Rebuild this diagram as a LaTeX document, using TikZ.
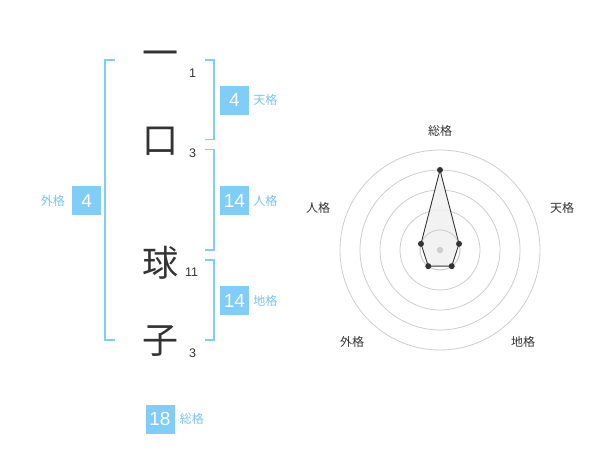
\documentclass[tikz,border=0pt]{standalone}
\usepackage{fontspec}
\setmainfont{Liberation Sans}
\newfontfamily\jpfont{Noto Sans CJK JP}
\usetikzlibrary{positioning, calc}
\definecolor{kakublue}{RGB}{129, 205, 250}
\definecolor{kakutext}{RGB}{120, 196, 240}
\definecolor{inkgray}{RGB}{51, 51, 51}
\definecolor{ringgray}{RGB}{205, 205, 205}
\tikzset{
  kanji/.style={font=\jpfont\fontsize{36}{36}\selectfont, text=inkgray, inner sep=0pt},
  strokes/.style={font=\fontsize{12.5}{12.5}\selectfont, text=inkgray, inner sep=0pt},
  kakubox/.style={fill=kakublue, text=white, minimum size=29pt, inner sep=0pt,
    font=\fontsize{19}{19}\selectfont},
  kakulabel/.style={font=\jpfont\fontsize{12}{12}\selectfont, text=kakutext, inner sep=0pt},
  bracket/.style={draw=kakublue, line width=1.8pt},
  ring/.style={draw=ringgray, line width=0.8pt},
  axislabel/.style={font=\jpfont\fontsize{12}{12}\selectfont, text=inkgray, inner sep=0pt},
  datadot/.style={circle, fill=inkgray, inner sep=0pt, minimum size=6pt},
}

\begin{document}
\begin{tikzpicture}[x=1pt, y=-1pt]
\useasboundingbox (0,0) rectangle (600,470);

% name characters and stroke counts
\node[kanji] (k1) at (160,59) {一};
\node[kanji] (k2) at (160,141) {口};
\node[kanji] (k3) at (160,262.5) {球};
\node[kanji] (k4) at (160,341) {子};
\node[strokes] (s1) at (192.7,73.3) {1};
\node[strokes] (s2) at (192.7,153.3) {3};
\node[strokes] (s3) at (191.7,272.7) {11};
\node[strokes] (s4) at (192.7,352.7) {3};

% brackets
\draw[bracket] (115,60) -| (105,340) -- (115,340);
\draw[bracket] (205,60) -| (214,139.5) -- (205,139.5);
\draw[bracket] (205,149.5) -| (214,250) -- (205,250);
\draw[bracket] (205,260) -| (214,340) -- (205,340);

% scores
\node[kakubox] (ten) at (234.5,100.3) {4};
\node[kakulabel, right=4pt of ten] (tenl) {天格};
\node[kakubox] (jin) at (234.5,200.5) {14};
\node[kakulabel, right=4pt of jin] (jinl) {人格};
\node[kakubox] (chi) at (234.5,300.5) {14};
\node[kakulabel, right=4pt of chi] (chil) {地格};
\node[kakubox] (gai) at (86.7,200.5) {4};
\node[kakulabel, left=7pt of gai] (gail) {外格};
\node[kakubox] (sou) at (160,419) {18};
\node[kakulabel, right=5pt of sou] (soul) {総格};

% radar chart
\coordinate (c) at (440,250);
\foreach \r in {20,40,60,80,100}
  \draw[ring] (c) circle (\r);
\coordinate (p1) at ($(c)+(-90:80)$);
\coordinate (p2) at ($(c)+(-18:20)$);
\coordinate (p3) at ($(c)+(54:20)$);
\coordinate (p4) at ($(c)+(126:20)$);
\coordinate (p5) at ($(c)+(198:20)$);
\fill[black!6, opacity=0.85] (p1) -- (p2) -- (p3) -- (p4) -- (p5) -- cycle;
\draw[ring] (c) circle (20);
\fill[ringgray] (c) circle (3.2);
\draw[inkgray, line width=0.9pt] (p1) -- (p2) -- (p3) -- (p4) -- (p5) -- cycle;
\foreach \p in {p1,p2,p3,p4,p5}
  \node[datadot] at (\p) {};

\node[axislabel] (a1) at (440,130.7) {総格};
\node[axislabel] (a2) at (562,208) {天格};
\node[axislabel] (a3) at (523,342) {地格};
\node[axislabel] (a4) at (352,342) {外格};
\node[axislabel] (a5) at (318,208) {人格};

\end{tikzpicture}
\end{document}
